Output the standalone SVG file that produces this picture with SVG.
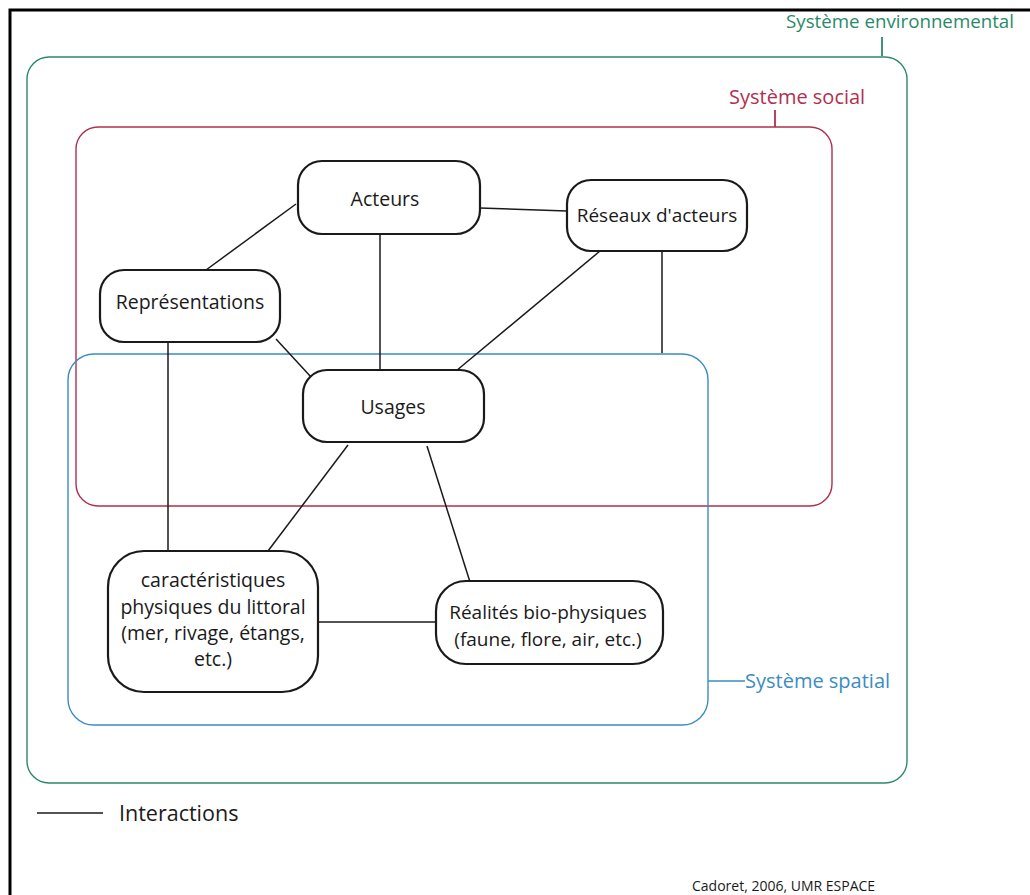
<svg xmlns="http://www.w3.org/2000/svg" width="1030" height="895" viewBox="0 0 1030 895">
<style>
.node rect{fill:#fff;stroke:#1a1a1a;stroke-width:2.2}
.node text,.legend text{font-family:"Open Sans","Liberation Sans",sans-serif;font-size:19.5px;fill:#1a1a1a;text-anchor:middle}
#connectors line{stroke:#1a1a1a;stroke-width:1.5}
.sys{fill:none;stroke-width:1.4}
.lbl{font-family:"Open Sans","Liberation Sans",sans-serif;font-size:20px}
</style>
<rect width="1030" height="895" fill="#fff"/>
<polyline points="10,895 10,10 1030,10" fill="none" stroke="#000" stroke-width="3"/>
<g id="env">
<rect class="sys" x="27" y="57" width="880" height="726" rx="22" stroke="#2a8a68"/>
<line x1="882" y1="37" x2="882" y2="56" stroke="#2a8a68" stroke-width="1.8"/>
<text class="lbl" x="786" y="28" fill="#2a8a68" style="font-size:19px" textLength="228" lengthAdjust="spacingAndGlyphs">Système environnemental</text>
</g>
<g id="social">
<rect class="sys" x="76" y="127" width="756" height="379" rx="22" stroke="#b0304e"/>
<line x1="775" y1="110" x2="775" y2="127" stroke="#b0304e" stroke-width="1.8"/>
<text class="lbl" x="729" y="104" fill="#b0304e">Système social</text>
</g>
<g id="spatial">
<rect class="sys" x="68" y="354" width="640" height="371" rx="26" stroke="#3a8cc4"/>
<line x1="708" y1="681" x2="745" y2="681" stroke="#3a8cc4" stroke-width="1.5"/>
<text class="lbl" x="745" y="688" fill="#3a8cc4">Système spatial</text>
</g>
<g id="connectors">
<line x1="296" y1="204" x2="206" y2="270"/>
<line x1="480" y1="208" x2="567" y2="211"/>
<line x1="380" y1="234" x2="380" y2="370"/>
<line x1="600" y1="251" x2="456" y2="371"/>
<line x1="662" y1="251" x2="662" y2="353"/>
<line x1="276" y1="339" x2="311" y2="377"/>
<line x1="168" y1="342" x2="168" y2="551"/>
<line x1="348" y1="445" x2="268" y2="551"/>
<line x1="427" y1="446" x2="470" y2="582"/>
<line x1="318" y1="622" x2="436" y2="622"/>
</g>
<g id="acteurs" class="node">
<rect x="298" y="161" width="182" height="73" rx="24"/>
<text x="385" y="206">Acteurs</text>
</g>
<g id="reseaux" class="node">
<rect x="567" y="180" width="180" height="71" rx="24"/>
<text x="657" y="222" style="font-size:19px">Réseaux d'acteurs</text>
</g>
<g id="representations" class="node">
<rect x="100" y="270" width="180" height="72" rx="24"/>
<text x="190" y="309">Représentations</text>
</g>
<g id="usages" class="node">
<rect x="303" y="370" width="181" height="72" rx="24"/>
<text x="393" y="414">Usages</text>
</g>
<g id="caracteristiques" class="node">
<rect x="108" y="551" width="210" height="141" rx="36"/>
<text x="213" y="587">caractéristiques</text>
<text x="213" y="614">physiques du littoral</text>
<text x="213" y="640">(mer, rivage, étangs,</text>
<text x="213" y="666">etc.)</text>
</g>
<g id="realites" class="node">
<rect x="436" y="581" width="227" height="83" rx="30"/>
<text x="548" y="619" style="font-size:19px">Réalités bio-physiques</text>
<text x="548" y="646" style="font-size:19px">(faune, flore, air, etc.)</text>
</g>
<g class="legend">
<line x1="37" y1="813" x2="103" y2="813" stroke="#1a1a1a" stroke-width="1.5"/>
<text x="119" y="821" style="text-anchor:start;font-size:21.5px">Interactions</text>
<text x="692" y="891" style="text-anchor:start;font-size:14px">Cadoret, 2006, UMR ESPACE</text>
</g>
</svg>
